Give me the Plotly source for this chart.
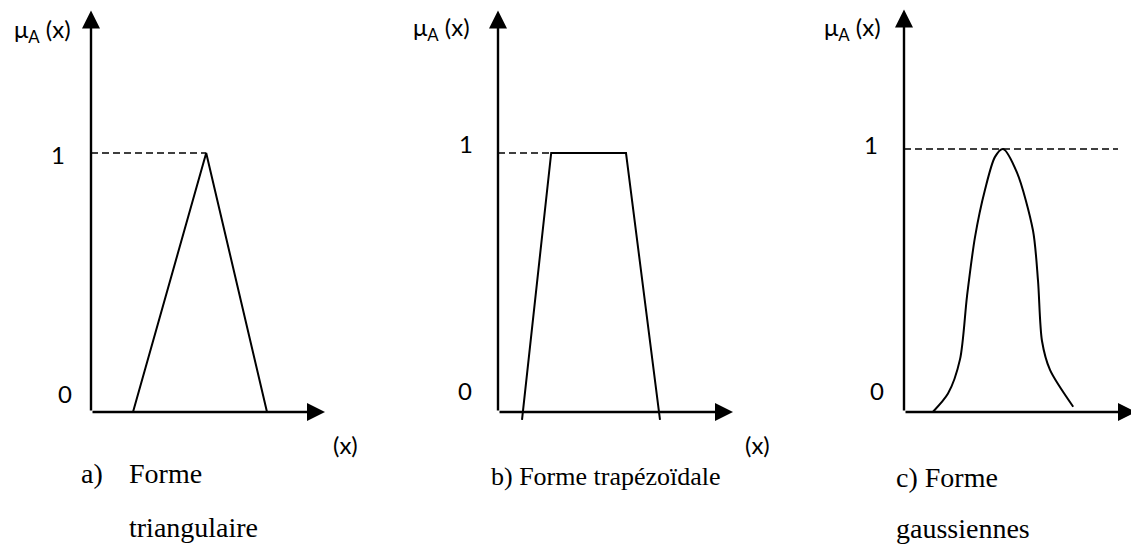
import plotly.graph_objects as go

W, H = 1131, 547

# membership functions, x in arbitrary units, y = mu_A(x)
tri_x = [1.05, 2.88, 4.4]
tri_y = [0, 1, 0]

trap_x = [0.6, 1.33, 3.2, 4.05]
trap_y = [-0.03, 1, 1, -0.03]

gauss_x = [0.72, 1.1, 1.4, 1.575, 1.775, 2.025, 2.275, 2.475, 2.825, 3.225, 3.35, 3.45, 3.65, 4.23]
gauss_y = [0.0, 0.07, 0.2, 0.44, 0.665, 0.845, 0.97, 1.0, 0.91, 0.69, 0.5, 0.27, 0.16, 0.02]

# dashed reference lines at mu = 1
dash_end = [2.88, 1.33, 5.35]
y_top = [1.55, 1.55, 1.53]
x_tip = [5.85, 5.875, 5.8]

captions = ["a)", "Forme", "triangulaire", "b) Forme trapézoïdale", "c) Forme", "gaussiennes"]

# pixel layout of each panel: origin, px per unit
panels = [
    dict(x0=0, x1=377, ox=91, oy=412, sx=40, sy=259),
    dict(x0=377, x1=754, ox=498, oy=412, sx=40, sy=259),
    dict(x0=754, x1=1131, ox=904, oy=412, sx=40, sy=263),
]

fig = go.Figure()
line = dict(color='black', width=2)

curves = [(tri_x, tri_y, 'linear'), (trap_x, trap_y, 'linear'), (gauss_x, gauss_y, 'spline')]
for i, (xs, ys, shape) in enumerate(curves):
    ax = '' if i == 0 else str(i + 1)
    fig.add_trace(go.Scatter(x=xs, y=ys, mode='lines', line=dict(line, shape=shape, smoothing=0.8),
                             xaxis='x' + ax, yaxis='y' + ax, showlegend=False, hoverinfo='skip'))
    fig.add_trace(go.Scatter(x=[0, dash_end[i]], y=[1, 1], mode='lines',
                             line=dict(color='black', width=1.6, dash='7px,4px'),
                             xaxis='x' + ax, yaxis='y' + ax, showlegend=False, hoverinfo='skip'))

annotations = []
layout_axes = {}
for i, p in enumerate(panels):
    ax = '' if i == 0 else str(i + 1)
    layout_axes['xaxis' + ax] = dict(
        domain=[p['x0'] / W, p['x1'] / W],
        range=[(p['x0'] - p['ox']) / p['sx'], (p['x1'] - p['ox']) / p['sx']],
        visible=False, anchor='y' + ax)
    layout_axes['yaxis' + ax] = dict(
        domain=[0, 1],
        range=[(p['oy'] - H) / p['sy'], p['oy'] / p['sy']],
        visible=False, anchor='x' + ax)
    # axis arrows
    for tx, ty in [(0, y_top[i]), (x_tip[i], 0)]:
        annotations.append(dict(x=tx, y=ty, ax=0, ay=0, xref='x' + ax, yref='y' + ax,
                                axref='x' + ax, ayref='y' + ax, text='', showarrow=True,
                                arrowhead=2, arrowsize=1.5, arrowwidth=2.4, arrowcolor='black'))


def txt(s, px, py, size=24, family='Lato', anchor='center'):
    annotations.append(dict(x=px / W, y=1 - py / H, xref='paper', yref='paper', text=s,
                            showarrow=False, xanchor=anchor, yanchor='middle',
                            font=dict(family=family, size=size, color='black')))


serif = 'Liberation Serif'
mu = 'μ<sub>A</sub> (x)'
# labels
txt(mu, 42, 30)
txt('1', 58, 155)
txt('0', 65, 393)
txt('(x)', 345, 444)
txt(mu, 441, 29)
txt('1', 466, 143)
txt('0', 465, 390)
txt('(x)', 757, 444)
txt(mu, 852, 29)
txt('1', 871, 144)
txt('0', 877, 390)

txt(captions[0], 79, 473, 28, serif, 'left')
txt(captions[1], 127, 473, 28, serif, 'left')
txt(captions[2], 127, 527, 28, serif, 'left')
txt(captions[3], 489, 476, 26, serif, 'left')
txt(captions[4], 894, 477, 28, serif, 'left')
txt(captions[5], 894, 528, 28, serif, 'left')

fig.update_layout(
    width=W, height=H,
    margin=dict(l=0, r=0, t=0, b=0),
    paper_bgcolor='white', plot_bgcolor='white',
    annotations=annotations,
    **layout_axes
)

fig.write_html("out.html", config={'displayModeBar': False},
               post_script="document.body.style.margin='0';")
